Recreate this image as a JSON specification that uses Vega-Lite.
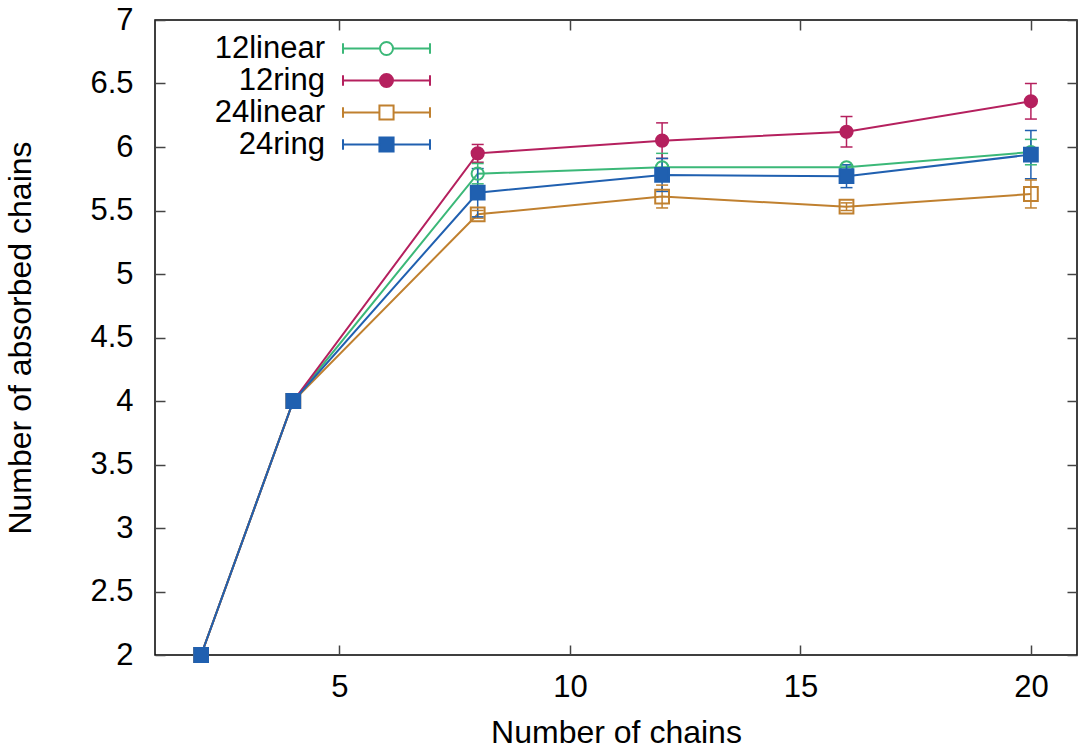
{
  "$schema": "https://vega.github.io/schema/vega-lite/v6.json",
  "width": 922,
  "height": 635,
  "autosize": {"type": "none"},
  "padding": {"left": 155, "top": 20, "right": 1, "bottom": 94},
  "background": "white",
  "config": {
    "font": "Liberation Sans",
    "view": {"stroke": "black", "strokeWidth": 1.5},
    "axis": {
      "grid": false,
      "domain": false,
      "offset": -10,
      "ticks": true,
      "tickColor": "#444444",
      "tickWidth": 1.5,
      "tickSize": 10,
      "labelFontSize": 31,
      "labelColor": "black",
      "titleFontSize": 32,
      "titleFontWeight": "normal",
      "titleColor": "black",
      "labelFont": "Liberation Sans",
      "titleFont": "Liberation Sans"
    }
  },
  "data": {
    "values": [
      {"series": "12linear", "x": 2, "y": 2, "lo": 2, "hi": 2},
      {"series": "12linear", "x": 4, "y": 4, "lo": 4, "hi": 4},
      {"series": "12linear", "x": 8, "y": 5.79, "lo": 5.71, "hi": 5.87},
      {"series": "12linear", "x": 12, "y": 5.84, "lo": 5.73, "hi": 5.95},
      {"series": "12linear", "x": 16, "y": 5.84, "lo": 5.82, "hi": 5.86},
      {"series": "12linear", "x": 20, "y": 5.96, "lo": 5.86, "hi": 6.06},
      {"series": "12ring", "x": 2, "y": 2, "lo": 2, "hi": 2},
      {"series": "12ring", "x": 4, "y": 4, "lo": 4, "hi": 4},
      {"series": "12ring", "x": 8, "y": 5.95, "lo": 5.88, "hi": 6.02},
      {"series": "12ring", "x": 12, "y": 6.05, "lo": 5.91, "hi": 6.19},
      {"series": "12ring", "x": 16, "y": 6.12, "lo": 6.0, "hi": 6.24},
      {"series": "12ring", "x": 20, "y": 6.36, "lo": 6.22, "hi": 6.5},
      {"series": "24linear", "x": 2, "y": 2, "lo": 2, "hi": 2},
      {"series": "24linear", "x": 4, "y": 4, "lo": 4, "hi": 4},
      {"series": "24linear", "x": 8, "y": 5.47, "lo": 5.44, "hi": 5.5},
      {"series": "24linear", "x": 12, "y": 5.61, "lo": 5.52, "hi": 5.7},
      {"series": "24linear", "x": 16, "y": 5.53, "lo": 5.5, "hi": 5.56},
      {"series": "24linear", "x": 20, "y": 5.63, "lo": 5.52, "hi": 5.74},
      {"series": "24ring", "x": 2, "y": 2, "lo": 2, "hi": 2},
      {"series": "24ring", "x": 4, "y": 4, "lo": 4, "hi": 4},
      {"series": "24ring", "x": 8, "y": 5.64, "lo": 5.45, "hi": 5.83},
      {"series": "24ring", "x": 12, "y": 5.78, "lo": 5.65, "hi": 5.91},
      {"series": "24ring", "x": 16, "y": 5.77, "lo": 5.68, "hi": 5.86},
      {"series": "24ring", "x": 20, "y": 5.94, "lo": 5.75, "hi": 6.13}
    ]
  },
  "layer": [
    {
      "mark": {"type": "line", "strokeWidth": 2},
      "encoding": {
        "x": {"field": "x", "type": "quantitative", "scale": {"domain": [1, 21], "nice": false, "zero": false},
          "axis": {"orient": "bottom", "title": "Number of chains", "values": [5, 10, 15, 20], "labelPadding": 17, "titlePadding": 15}},
        "y": {"field": "y", "type": "quantitative", "scale": {"domain": [2, 7], "nice": false, "zero": false},
          "axis": {"orient": "left", "title": "Number of absorbed chains", "format": "~g", "values": [2, 2.5, 3, 3.5, 4, 4.5, 5, 5.5, 6, 6.5, 7], "labelPadding": 22, "titlePadding": 52}},
        "color": {
          "field": "series", "type": "nominal",
          "scale": {"domain": ["12linear", "12ring", "24linear", "24ring"], "range": ["#3bb878", "#b5205e", "#c0802f", "#2060b0"]},
          "legend": {
            "title": null,
            "orient": "none",
            "legendX": 55,
            "legendY": 13,
            "padding": 0,
            "labelFontSize": 31,
            "labelFont": "Liberation Sans",
            "labelColor": "black",
            "symbolSize": 200,
            "symbolStrokeWidth": 2,
            "symbolType": "M-6.15,0H-0.92M0.92,0H6.15M-6.15,-0.75V0.75M6.15,-0.75V0.75M0.92,0A0.92,0.92,0,1,1,-0.92,0A0.92,0.92,0,1,1,0.92,0Z",
            "rowPadding": 0,
            "encode": {
              "labels": {"update": {"x": {"value": 115}, "align": {"value": "right"}}},
              "symbols": {"update": {
                "x": {"value": 176.5},
                "shape": {"signal": "(datum.value === '12linear' || datum.value === '12ring') ? 'M-6.15,0H-0.92M0.92,0H6.15M-6.15,-0.75V0.75M6.15,-0.75V0.75M0.92,0A0.92,0.92,0,1,1,-0.92,0A0.92,0.92,0,1,1,0.92,0Z' : 'M-6.15,0H-1M1,0H6.15M-6.15,-0.75V0.75M6.15,-0.75V0.75M-1,-1H1V1H-1Z'"},
                "fill": {"signal": "datum.value === '12ring' ? '#b5205e' : datum.value === '24ring' ? '#2060b0' : 'transparent'"},
                "stroke": {"signal": "datum.value === '12linear' ? '#3bb878' : datum.value === '12ring' ? '#b5205e' : datum.value === '24linear' ? '#c0802f' : '#2060b0'"},
                "strokeWidth": {"value": 2},
                "opacity": {"value": 1}
              }}
            }
          }
        }
      }
    },
    {
      "mark": {"type": "rule", "strokeWidth": 1.5},
      "encoding": {
        "x": {"field": "x", "type": "quantitative", "axis": null},
        "y": {"field": "lo", "type": "quantitative", "axis": null},
        "y2": {"field": "hi"},
        "stroke": {"field": "series", "type": "nominal", "scale": {"domain": ["12linear", "12ring", "24linear", "24ring"], "range": ["#3bb878", "#b5205e", "#c0802f", "#2060b0"]}, "legend": null}
      }
    },
    {
      "mark": {"type": "rule", "strokeWidth": 1.5, "xOffset": -6, "x2Offset": 6},
      "encoding": {
        "x": {"field": "x", "type": "quantitative", "axis": null},
        "x2": {"field": "x"},
        "y": {"field": "lo", "type": "quantitative", "axis": null},
        "stroke": {"field": "series", "type": "nominal", "legend": null}
      }
    },
    {
      "mark": {"type": "rule", "strokeWidth": 1.5, "xOffset": -6, "x2Offset": 6},
      "encoding": {
        "x": {"field": "x", "type": "quantitative", "axis": null},
        "x2": {"field": "x"},
        "y": {"field": "hi", "type": "quantitative", "axis": null},
        "stroke": {"field": "series", "type": "nominal", "legend": null}
      }
    },
    {
      "transform": [{"filter": {"field": "series", "oneOf": ["12linear", "12ring"]}}],
      "mark": {"type": "point", "shape": "circle", "size": 150, "strokeWidth": 2, "opacity": 1},
      "encoding": {
        "x": {"field": "x", "type": "quantitative",
          "axis": {"orient": "top", "labels": false, "title": null, "values": [5, 10, 15, 20]}},
        "y": {"field": "y", "type": "quantitative",
          "axis": {"orient": "right", "labels": false, "title": null, "values": [2, 2.5, 3, 3.5, 4, 4.5, 5, 5.5, 6, 6.5, 7]}},
        "stroke": {"field": "series", "type": "nominal", "legend": null},
        "fill": {"field": "series", "type": "nominal", "scale": {"domain": ["12linear", "12ring", "24linear", "24ring"], "range": ["transparent", "#b5205e", "transparent", "#2060b0"]}, "legend": null}
      }
    },
    {
      "transform": [{"filter": {"field": "series", "oneOf": ["24linear", "24ring"]}}],
      "mark": {"type": "point", "shape": "square", "size": 190, "strokeWidth": 2, "opacity": 1},
      "encoding": {
        "x": {"field": "x", "type": "quantitative", "axis": null},
        "y": {"field": "y", "type": "quantitative", "axis": null},
        "stroke": {"field": "series", "type": "nominal", "legend": null},
        "fill": {"field": "series", "type": "nominal", "legend": null}
      }
    }
  ],
  "resolve": {"axis": {"x": "independent", "y": "independent"}}
}
